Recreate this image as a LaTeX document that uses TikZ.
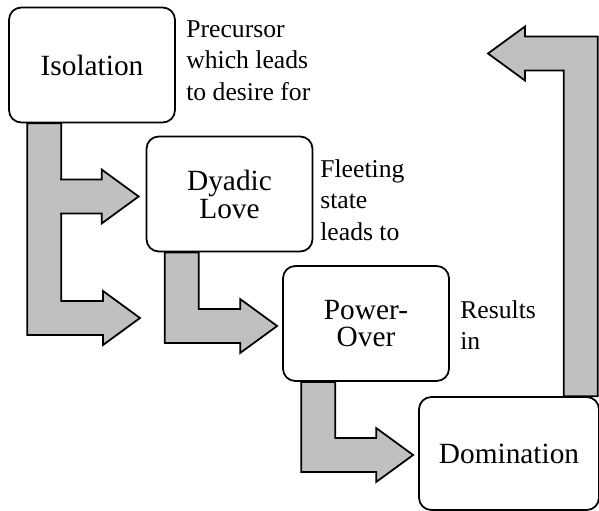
\documentclass[tikz,border=0pt]{standalone}
\usepackage{fontspec}
\setmainfont{Liberation Serif}
\usetikzlibrary{calc}

\definecolor{arrowgray}{HTML}{C0C0C0}

% sizes of the block arrows, in pixels of the picture
\newcommand{\shaftw}{34}
\newcommand{\headh}{27}
\newcommand{\headl}{37}

% L-shaped block arrow: #1 top left of the shaft, #2 tip
\newcommand{\bendarrow}[2]{%
  \draw [blockarrow] (#1) -- ++(\shaftw, 0)
    |- ($(#2) + (-\headl, -\shaftw/2)$) -- ++(0, {\shaftw/2 - \headh})
    -- (#2) -- ++(-\headl, \headh) -- ++(0, {\shaftw/2 - \headh})
    -| (#1) -- cycle;
}

\begin{document}
\begin{tikzpicture}[x=0.02cm, y=-0.02cm, line join=miter,
    box/.style={draw, line width=1pt, rounded corners=7pt, fill=white,
      align=center, minimum width=3.32cm, minimum height=2.3cm,
      font=\fontsize{16.7}{15.9}\selectfont},
    note/.style={anchor=base west, align=left, inner sep=0pt,
      font=\fontsize{14.6}{17.9}\selectfont},
    blockarrow/.style={draw, line width=1pt, fill=arrowgray}]

      \useasboundingbox (0, 0) rectangle (599, 511);

      \node [box] (iso) at (92, 65) {Isolation};
      \node [box] (dyad) at (229.5, 194) {Dyadic\\Love};
      \node [box] (pow) at (366, 323.5) {Power-\\Over};
      \node [box, minimum width=3.6cm, minimum height=2.26cm]
        (dom) at (509, 453.5) {Domination};

      % notes, placed at the baseline of their last line
      \node [note] (isonote) at (186, 100) {Precursor\\which leads\\to desire for};
      \node [note] (dyadnote) at (320, 240) {Fleeting\\state\\leads to};
      \node [note] (pownote) at (460, 349.5) {Results\\in};

      % Isolation to Dyadic Love, and on down
      \coordinate (isoS) at ($(iso.south west) + (19, 0)$);
      \coordinate (isoB) at ($(dyad.west) + (-7, 2.5)$);
      \coordinate (isoT) at (140, 318);
      \coordinate (isoJ) at ($(isoS) + (\shaftw - 1, 0)$);
      \bendarrow{isoS}{isoT}
      \draw [blockarrow] ($(isoJ |- isoB) + (0, -\shaftw/2)$)
        -| ($(isoB) + (-\headl, -\headh)$) -- (isoB)
        -- ++(-\headl, \headh) |- ($(isoJ |- isoB) + (0, \shaftw/2)$);

      % Dyadic Love to Power-Over
      \coordinate (dyadS) at ($(dyad.south west) + (19, 0)$);
      \coordinate (powT) at ($(pow.west) + (-5, 2.5)$);
      \bendarrow{dyadS}{powT}

      % Power-Over to Domination
      \coordinate (powS) at ($(pow.south west) + (19, 0)$);
      \coordinate (domT) at ($(dom.west) + (-5, 1.5)$);
      \bendarrow{powS}{domT}

      % Domination back up
      \coordinate (domS) at ($(dom.north east) + (-\shaftw - 2, 0)$);
      \coordinate (backT) at (488, 53.5);
      \draw [blockarrow] (domS) |- ($(backT) + (\headl, \shaftw/2)$)
        -- ++(0, {\headh - \shaftw/2}) -- (backT)
        -- ++(\headl, -\headh) -- ++(0, {\headh - \shaftw/2})
        -| ($(domS) + (\shaftw, 0)$) -- cycle;

\end{tikzpicture}
\end{document}
